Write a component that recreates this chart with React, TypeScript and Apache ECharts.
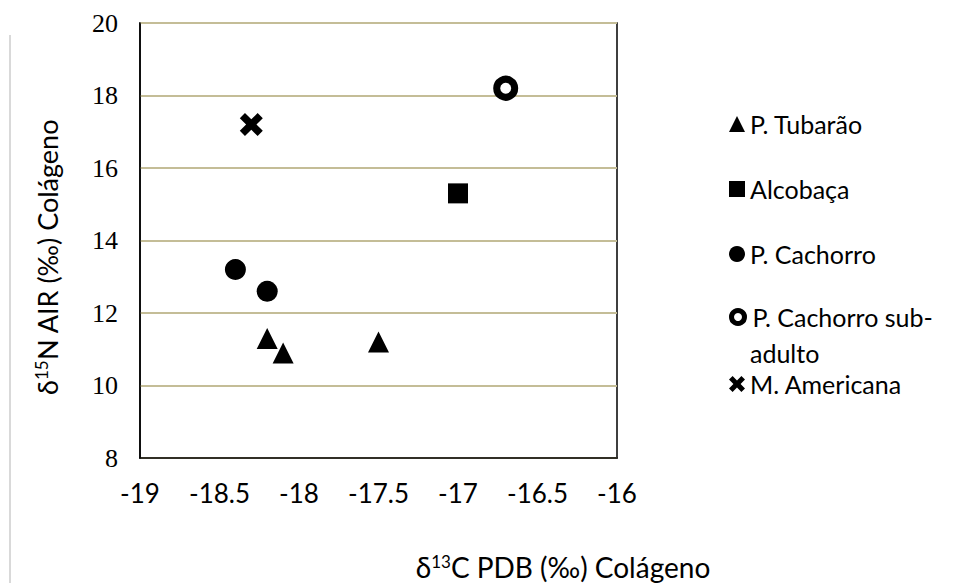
import React, { useEffect, useRef } from "react";
import * as echarts from "echarts";

const xTicks = [-19, -18.5, -18, -17.5, -17, -16.5, -16];
const yTicks = [8, 10, 12, 14, 16, 18, 20];

const tubarao: number[][] = [[-18.2, 11.3], [-18.1, 10.9], [-17.5, 11.2]];
const alcobaca: number[][] = [[-17.0, 15.3]];
const cachorro: number[][] = [[-18.4, 13.2], [-18.2, 12.6]];
const cachorroSub: number[][] = [[-16.7, 18.2]];
const americana: number[][] = [[-18.3, 17.2]];

const seriesNames = ["P. Tubarão", "Alcobaça", "P. Cachorro", "P. Cachorro sub-adulto", "M. Americana"];

const CROSS = "path://M4.5,0 L10,5.5 L15.5,0 L20,4.5 L14.5,10 L20,15.5 L15.5,20 L10,14.5 L4.5,20 L0,15.5 L5.5,10 L0,4.5 Z";

export default function App() {
  const ref = useRef<HTMLDivElement>(null);
  useEffect(() => {
    if (!ref.current) return;
    const chart = echarts.init(ref.current, null, { renderer: "svg" });
    const sansFont = "Lato, 'Open Sans', sans-serif";
    const legendCenters = [125, 190, 255, 318, 385];
    const legends = seriesNames.map((n, i) => ({
      data: [n],
      left: 729,
      top: legendCenters[i] - 16,
      padding: 0,
      itemWidth: i === 3 ? 13 : 16,
      itemHeight: i === 3 ? 13 : 16,
      itemGap: 0,
      textStyle: { fontFamily: sansFont, fontSize: 25, color: "#000", lineHeight: 30, padding: i === 3 ? [0, 0, 0, 3] : 0 },
      itemStyle: i === 3 ? { borderWidth: 5 } : undefined,
      formatter: (name: string) => (name === "P. Cachorro sub-adulto" ? "P. Cachorro sub-" : name),
    }));
    chart.setOption({
      animation: false,
      backgroundColor: "#fff",
      grid: {
        left: 140,
        right: 343,
        top: 23,
        bottom: 125,
        show: true,
        borderColor: "#000",
        borderWidth: 1.5,
        containLabel: false,
      },
      legend: legends,
      xAxis: {
        type: "value",
        min: xTicks[0],
        max: xTicks[xTicks.length - 1],
        interval: 0.5,
        axisLine: { show: true, onZero: false, lineStyle: { color: "#000", width: 1.5 } },
        axisTick: { show: false },
        splitLine: { show: false },
        axisLabel: { fontFamily: sansFont, fontSize: 26, color: "#000", margin: 22 },
      },
      yAxis: {
        type: "value",
        min: yTicks[0],
        max: yTicks[yTicks.length - 1],
        interval: 2,
        axisLine: { show: true, onZero: false, lineStyle: { color: "#000", width: 1.5 } },
        axisTick: { show: false },
        splitLine: { show: true, lineStyle: { color: "#C4BD97", width: 2 } },
        axisLabel: { fontFamily: "'Liberation Serif', 'Times New Roman', serif", fontSize: 26, color: "#000", margin: 22 },
      },
      graphic: [
        { type: "line", shape: { x1: 10, y1: 35, x2: 10, y2: 583 }, style: { stroke: "#d9d9d9", lineWidth: 2 } },
        {
          type: "text",
          x: 47,
          y: 257,
          rotation: Math.PI / 2,
          style: {
            text: "{n|δ}{s|15}{n|N AIR (‰) Colágeno}",
            align: "center",
            verticalAlign: "middle",
            rich: {
              n: { fontFamily: sansFont, fontSize: 27, fill: "#000" },
              s: { fontFamily: sansFont, fontSize: 17, fill: "#000", padding: [0, 0, 12, 0] },
            },
          },
        },
        {
          type: "text",
          x: 563,
          y: 567,
          style: {
            text: "{n|δ}{s|13}{n|C PDB (‰) Colágeno}",
            align: "center",
            verticalAlign: "middle",
            rich: {
              n: { fontFamily: sansFont, fontSize: 28, fill: "#000" },
              s: { fontFamily: sansFont, fontSize: 17, fill: "#000", padding: [0, 0, 12, 0] },
            },
          },
        },
        {
          type: "text",
          x: 750,
          y: 353,
          style: { text: "adulto", fontFamily: sansFont, fontSize: 25, fill: "#000", verticalAlign: "middle" },
        },
      ],
      series: [
        { name: seriesNames[0], type: "scatter", data: tubarao, symbol: "triangle", symbolSize: [21, 21], itemStyle: { color: "#000", opacity: 1 } },
        { name: seriesNames[1], type: "scatter", data: alcobaca, symbol: "rect", symbolSize: 20, itemStyle: { color: "#000", opacity: 1 } },
        { name: seriesNames[2], type: "scatter", data: cachorro, symbol: "circle", symbolSize: 21, itemStyle: { color: "#000", opacity: 1 } },
        {
          name: seriesNames[3], type: "scatter", data: cachorroSub, symbol: "circle", symbolSize: 18,
          itemStyle: { color: "#fff", borderColor: "#000", borderWidth: 7, opacity: 1 },
        },
        { name: seriesNames[4], type: "scatter", data: americana, symbol: CROSS, symbolSize: 23, itemStyle: { color: "#000", opacity: 1 } },
      ],
    });
    return () => chart.dispose();
  }, []);
  return <div ref={ref} style={{ position: "fixed", left: 0, top: 0, width: 960, height: 583 }} />;
}
